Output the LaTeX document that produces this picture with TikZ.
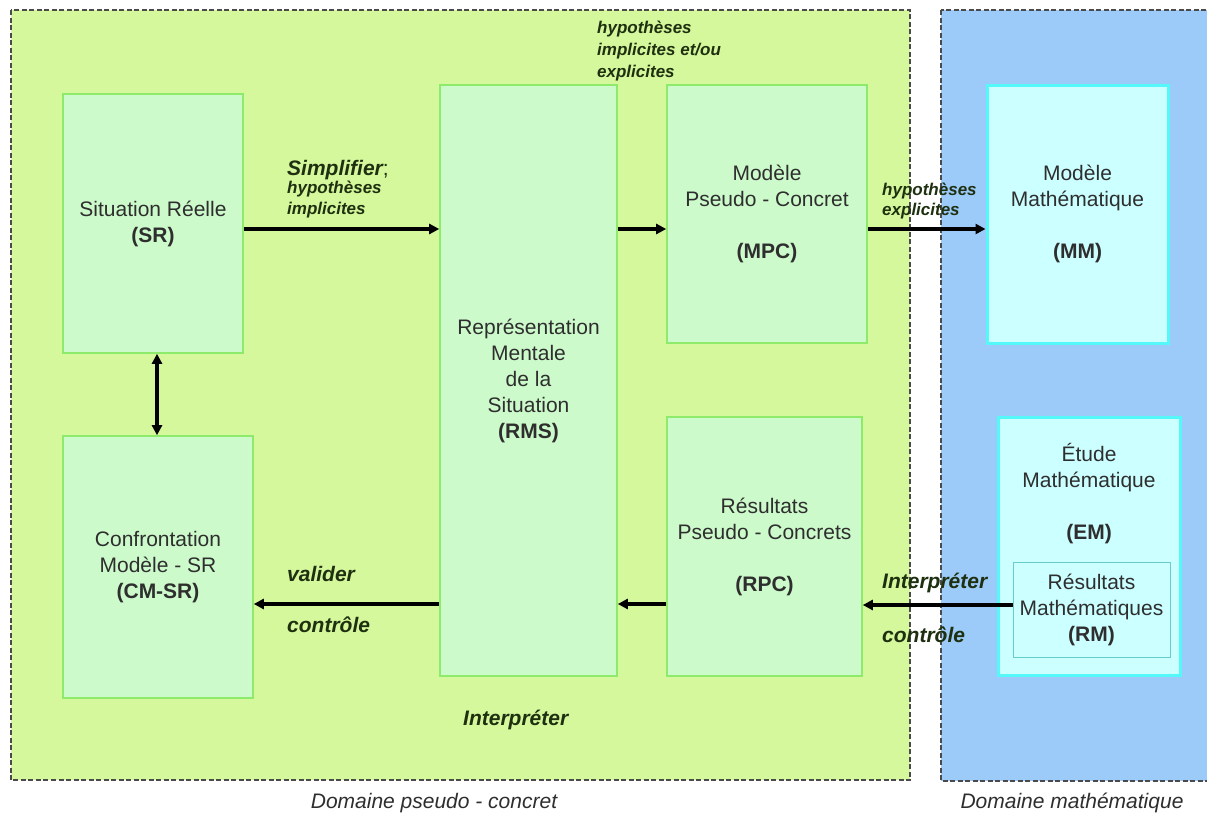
\documentclass[tikz,border=0pt]{standalone}
\usepackage{fontspec}
\setmainfont{Liberation Sans}
\usetikzlibrary{arrows.meta,calc}
\definecolor{pcbg}{HTML}{D6F89C}
\definecolor{mabg}{HTML}{9CCBFA}
\definecolor{gfill}{HTML}{CDFACB}
\definecolor{gdraw}{HTML}{8EEA6A}
\definecolor{cfill}{HTML}{CCFFFF}
\definecolor{cdraw}{HTML}{55F8F8}
\definecolor{rmdraw}{HTML}{66CCCC}
\definecolor{txt}{HTML}{2E2E2E}
\definecolor{ltxt}{HTML}{1E3010}
\definecolor{dashc}{HTML}{4A4A4A}
\begin{document}
\begin{tikzpicture}[x=1pt,y=-1pt,
  zonebox/.style={draw=dashc, line width=2pt, dash pattern=on 5pt off 2.5pt},
  gbox/.style={draw=gdraw, fill=gfill, line width=1.6pt, align=center, inner sep=0pt, text=txt, font=\fontsize{21}{26}\selectfont},
  cbox/.style={draw=cdraw, fill=cfill, line width=3pt, align=center, inner sep=0pt, text=txt, font=\fontsize{21}{26}\selectfont},
  rmbox/.style={draw=rmdraw, line width=1pt, align=center, inner sep=0pt, text=txt, font=\fontsize{21}{26}\selectfont},
  ptext/.style={align=center, inner sep=0pt, text=txt, font=\fontsize{21}{26}\selectfont},
  lab/.style={anchor=base west, align=left, inner sep=0pt, text=ltxt, font=\fontsize{21}{26}\selectfont\bfseries\itshape},
  slab/.style={anchor=base west, align=left, inner sep=0pt, text=ltxt, font=\fontsize{17}{22}\selectfont\bfseries\itshape},
  domlab/.style={anchor=base, inner sep=0pt, text=txt, font=\fontsize{21}{26}\selectfont\itshape},
  arr/.style={line width=3.5pt, draw=black, -{Triangle[length=10pt,width=10pt]}},
  darr/.style={line width=3.5pt, draw=black, {Triangle[length=10pt,width=10pt]}-{Triangle[length=10pt,width=10pt]}}
]
\useasboundingbox (0,0) rectangle (1207,814);
\clip (0,0) rectangle (1207,814);
\fill[white] (0,0) rectangle (1207,814);
% domains
\draw[zonebox, fill=pcbg] (11,10) rectangle (910,780);
\draw[zonebox, fill=mabg] (941,10) rectangle (1240,781);
% boxes
\node[gbox, minimum width=180pt, minimum height=259pt] (sr) at (153,223.5) {Situation Réelle\\\textbf{(SR)}};
\node[gbox, minimum width=190pt, minimum height=262pt] (cm) at (158,567) {Confrontation\\Modèle - SR\\\textbf{(CM-SR)}};
\node[gbox, minimum width=177pt, minimum height=591pt] (rms) at (528.5,380.5) {Représentation\\Mentale\\de la\\Situation\\\textbf{(RMS)}};
\node[gbox, minimum width=200pt, minimum height=258pt] (mpc) at (767,214) {Modèle\\Pseudo - Concret\\[26pt]\textbf{(MPC)}};
\node[gbox, minimum width=195pt, minimum height=259pt] (rpc) at (764.5,546.5) {Résultats\\Pseudo - Concrets\\[26pt]\textbf{(RPC)}};
\node[cbox, minimum width=181pt, minimum height=258pt] (mm) at (1077.5,214) {Modèle\\Mathématique\\[26pt]\textbf{(MM)}};
\node[cbox, minimum width=182pt, minimum height=258pt] (em) at (1089,546) {};
\node[ptext] (emtext) at (1089,494) {Étude\\Mathématique\\[26pt]\textbf{(EM)}};
\node[rmbox, minimum width=157pt, minimum height=95pt] (rm) at (1091.5,609.5) {Résultats\\Mathématiques\\\textbf{(RM)}};
% arrows
\draw[arr] (sr.east |- 0,229) -- (rms.west |- 0,229);
\draw[arr] (rms.east |- 0,229) -- (mpc.west |- 0,229);
\draw[arr] (mpc.east |- 0,229) -- (mm.west |- 0,229);
\draw[darr] (sr.south -| 157,0) -- (cm.north -| 157,0);
\draw[arr] (rms.west |- 0,604) -- (cm.east |- 0,604);
\draw[arr] (rpc.west |- 0,604) -- (rms.east |- 0,604);
\draw[arr] (rm.west |- 0,605) -- (rpc.east |- 0,605);
% labels
\node[lab] (lsimp) at (287,175) {Simplifier\textmd{\upshape;}};
\node[slab] (lhyp1a) at (287,193) {hypothèses};
\node[slab] (lhyp1b) at (287,214) {implicites};
\node[slab] (lhyp2a) at (597,33) {hypothèses};
\node[slab] (lhyp2b) at (597,55) {implicites et/ou};
\node[slab] (lhyp2c) at (597,77) {explicites};
\node[slab] (lhyp3a) at (882,195) {hypothèses};
\node[slab] (lhyp3b) at (882,215) {explicites};
\node[lab] (lval) at (287,581) {valider};
\node[lab] (lctl1) at (287,632) {contrôle};
\node[lab] (lint1) at (463,725) {Interpréter};
\node[lab] (lint2) at (882,588) {Interpréter};
\node[lab] (lctl2) at (882,642) {contrôle};
\node[domlab] (dpc) at (434,808) {Domaine pseudo - concret};
\node[domlab] (dma) at (1072,808) {Domaine mathématique};
\end{tikzpicture}
\end{document}
